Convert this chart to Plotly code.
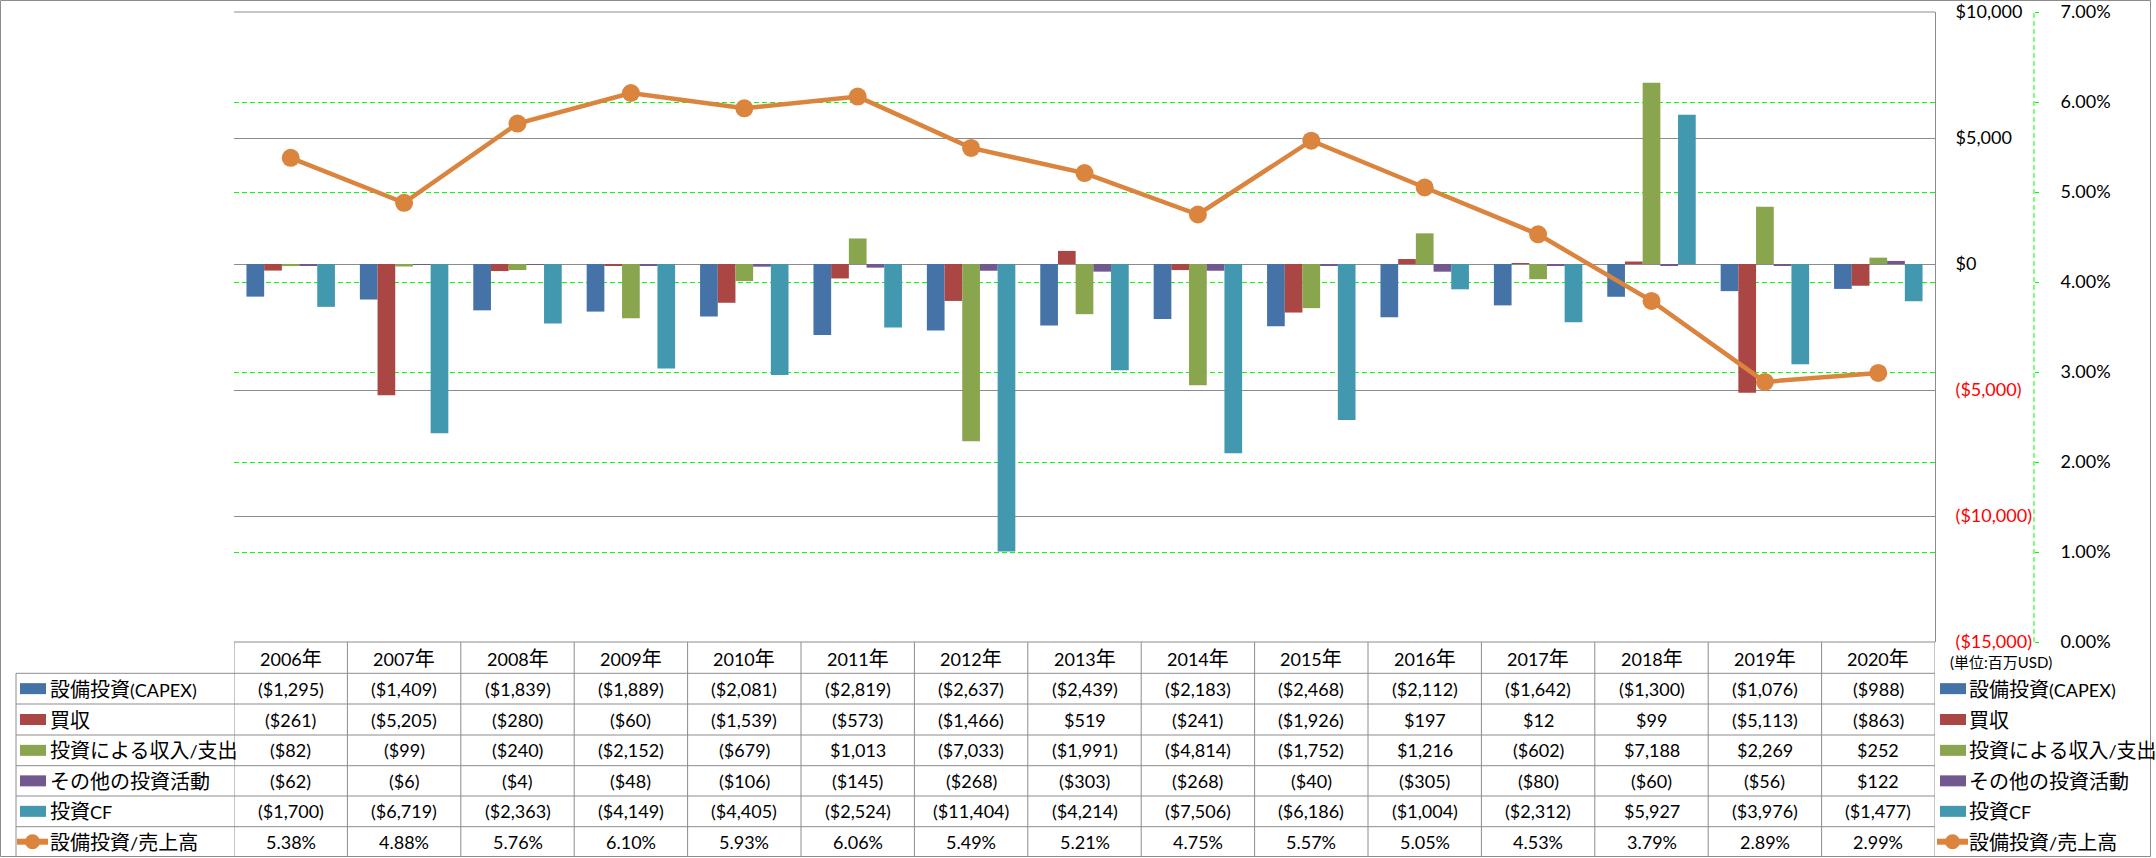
import re
import plotly.graph_objects as go

# ---------------- data ----------------
years = ["2006年", "2007年", "2008年", "2009年", "2010年", "2011年", "2012年", "2013年",
         "2014年", "2015年", "2016年", "2017年", "2018年", "2019年", "2020年"]
capex = [-1295, -1409, -1839, -1889, -2081, -2819, -2637, -2439, -2183, -2468, -2112, -1642, -1300, -1076, -988]
acquisitions = [-261, -5205, -280, -60, -1539, -573, -1466, 519, -241, -1926, 197, 12, 99, -5113, -863]
investments = [-82, -99, -240, -2152, -679, 1013, -7033, -1991, -4814, -1752, 1216, -602, 7188, 2269, 252]
other_inv = [-62, -6, -4, -48, -106, -145, -268, -303, -268, -40, -305, -80, -60, -56, 122]
invest_cf = [-1700, -6719, -2363, -4149, -4405, -2524, -11404, -4214, -7506, -6186, -1004, -2312, 5927, -3976, -1477]
capex_ratio = [5.38, 4.88, 5.76, 6.10, 5.93, 6.06, 5.49, 5.21, 4.75, 5.57, 5.05, 4.53, 3.79, 2.89, 2.99]

series_names = ["設備投資(CAPEX)", "買収", "投資による収入/支出", "その他の投資活動", "投資CF"]
ratio_name = "設備投資/売上高"
usd_ticks = [-15000, -10000, -5000, 0, 5000, 10000]
usd_ticktext = ["($15,000)", "($10,000)", "($5,000)", "$0", "$5,000", "$10,000"]
pct_ticks = [0, 1, 2, 3, 4, 5, 6, 7]
pct_ticktext = ["0.00%", "1.00%", "2.00%", "3.00%", "4.00%", "5.00%", "6.00%", "7.00%"]
unit_label = "(単位:百万USD)"

# ---------------- style ----------------
colors = ["#4572A7", "#AA4643", "#89A54E", "#71588F", "#4198AF"]
orange = "#DB843D"
grey = "#8C8C8C"
green = "#00FF00"
FONT = "Lato, 'Noto Sans CJK JP', sans-serif"
FS = 18
CJK_FS = 20

W, H = 2156, 858
L, R_PLOT, R_PAPER, T, B = 234, 1935, 2034, 12, 642


def px(x):
    return (x - L) / (R_PAPER - L)


def py(y):
    return (B - y) / (B - T)


def cjk(s, size=CJK_FS):
    return re.sub(r"([\u2E80-\u9FFF\uFF00-\uFFEF]+)",
                  lambda m: '<span style="font-size:%dpx">%s</span>' % (size, m.group(1)), s)


def fmt_usd(v):
    s = "${:,}".format(abs(v))
    return "({})".format(s) if v < 0 else s


fig = go.Figure()
all_series = [capex, acquisitions, investments, other_inv, invest_cf]
for name, vals, col in zip(series_names, all_series, colors):
    fig.add_trace(go.Bar(x=years, y=vals, name=name, marker=dict(color=col, line=dict(width=0))))

fig.add_trace(go.Scatter(x=years, y=capex_ratio, name=ratio_name, yaxis="y2", mode="lines+markers",
                         line=dict(color=orange, width=4.5), marker=dict(color=orange, size=18)))

usd_text = [t if v >= 0 else '<span style="color:#FF0000">' + t + '</span>'
            for v, t in zip(usd_ticks, usd_ticktext)]

fig.update_layout(
    width=W, height=H, autosize=False,
    margin=dict(l=L, r=W - R_PAPER, t=T, b=H - B, pad=0, autoexpand=False),
    paper_bgcolor="white", plot_bgcolor="white",
    barmode="group", bargap=0.22, bargroupgap=0,
    showlegend=False,
    font=dict(family=FONT, size=FS, color="#000000"),
    xaxis=dict(domain=[0, (R_PLOT - L) / (R_PAPER - L)], range=[-0.5, 14.5], showticklabels=False,
               showgrid=False, zeroline=False, showline=False, ticks="", automargin=False),
    yaxis=dict(range=[-15000, 10000], side="right", tickvals=usd_ticks, ticktext=usd_text,
               showgrid=True, gridcolor=grey, gridwidth=1, zeroline=True, zerolinecolor=grey,
               zerolinewidth=1, showline=True, linecolor=grey, linewidth=1, ticks="",
               ticklabelstandoff=16, tickfont=dict(family=FONT, size=FS), automargin=False),
    yaxis2=dict(range=[0, 7], overlaying="y", side="right", anchor="free", position=1,
                tickvals=pct_ticks, ticktext=pct_ticktext, showgrid=True, gridcolor=green,
                griddash="5px,3px", gridwidth=1, zeroline=False, showline=False, ticks="outside",
                ticklen=4, tickcolor=green, tickwidth=1, ticklabelstandoff=18,
                tickfont=dict(family=FONT, size=FS), automargin=False),
)

shapes = []
# outer border
shapes.append(dict(type="rect", xref="paper", yref="paper", x0=px(0.5), x1=px(2150.5), y0=py(856.5), y1=py(0.5),
                   line=dict(color=grey, width=1), fillcolor="rgba(0,0,0,0)", layer="above"))
# top gridline redraw (grey)
shapes.append(dict(type="line", xref="x", yref="paper", x0=-0.5, x1=14.5, y0=1, y1=1,
                   line=dict(color=grey, width=1), layer="above"))
# secondary axis dashed line
shapes.append(dict(type="line", xref="paper", yref="paper", x0=1, x1=1, y0=0, y1=1,
                   line=dict(color=green, width=1, dash="5px,3px"), layer="above"))

# table grid
row_lines = [642, 673.3, 704, 735, 765.7, 796, 826.7, 856.7]
shapes.append(dict(type="line", xref="x", yref="paper", x0=-0.5, x1=14.5, y0=py(642), y1=py(642),
                   line=dict(color=grey, width=1), layer="above"))
for yl in row_lines[1:-1]:
    shapes.append(dict(type="line", xref="paper", yref="paper", x0=px(16), x1=px(R_PLOT), y0=py(yl), y1=py(yl),
                       line=dict(color=grey, width=1), layer="above"))
for i in range(len(years) + 1):
    shapes.append(dict(type="line", xref="x", yref="paper", x0=i - 0.5, x1=i - 0.5, y0=py(642), y1=py(856.5),
                       line=dict(color=grey, width=1), layer="above"))
shapes.append(dict(type="line", xref="paper", yref="paper", x0=px(16), x1=px(16), y0=py(673.3), y1=py(856.5),
                   line=dict(color=grey, width=1), layer="above"))

annotations = []
hdr_c = (row_lines[0] + row_lines[1]) / 2
for yr in years:
    annotations.append(dict(xref="x", yref="paper", x=yr, y=py(hdr_c), text=cjk(yr), showarrow=False,
                            xanchor="center", yanchor="middle", font=dict(family=FONT, size=FS)))

row_centers = [(row_lines[k] + row_lines[k + 1]) / 2 for k in range(1, 7)]
for r, (name, vals, col) in enumerate(zip(series_names, all_series, colors)):
    yc = row_centers[r]
    for yr, v in zip(years, vals):
        annotations.append(dict(xref="x", yref="paper", x=yr, y=py(yc), text=fmt_usd(v), showarrow=False,
                                xanchor="center", yanchor="middle", font=dict(family=FONT, size=FS)))
    for sx, tx in ((20, 48), (1940, 1967)):
        shapes.append(dict(type="rect", xref="paper", yref="paper", x0=px(sx), x1=px(sx + 26),
                           y0=py(yc + 5.5), y1=py(yc - 5.5), fillcolor=col, line=dict(width=0), layer="above"))
        annotations.append(dict(xref="paper", yref="paper", x=px(tx), y=py(yc), text=cjk(name), showarrow=False,
                                xanchor="left", yanchor="middle", font=dict(family=FONT, size=FS)))

yc = row_centers[5]
for yr, v in zip(years, capex_ratio):
    annotations.append(dict(xref="x", yref="paper", x=yr, y=py(yc), text="{:.2f}%".format(v), showarrow=False,
                            xanchor="center", yanchor="middle", font=dict(family=FONT, size=FS)))
for sx, tx in ((17, 48), (1937, 1967)):
    shapes.append(dict(type="line", xref="paper", yref="paper", x0=px(sx), x1=px(sx + 31), y0=py(yc), y1=py(yc),
                       line=dict(color=orange, width=6), layer="above"))
    shapes.append(dict(type="circle", xref="paper", yref="paper", x0=px(sx + 8), x1=px(sx + 23),
                       y0=py(yc + 7.5), y1=py(yc - 7.5), fillcolor=orange, line=dict(width=0), layer="above"))
    annotations.append(dict(xref="paper", yref="paper", x=px(tx), y=py(yc), text=cjk(ratio_name), showarrow=False,
                            xanchor="left", yanchor="middle", font=dict(family=FONT, size=FS)))

annotations.append(dict(xref="paper", yref="paper", x=px(1948), y=py(662), text=unit_label, showarrow=False,
                        xanchor="left", yanchor="middle", font=dict(family=FONT, size=15)))

fig.update_layout(shapes=shapes, annotations=annotations)
fig.write_html("out.html", config={"displayModeBar": False},
               post_script="document.body.style.margin='0';document.body.style.overflow='hidden';")
